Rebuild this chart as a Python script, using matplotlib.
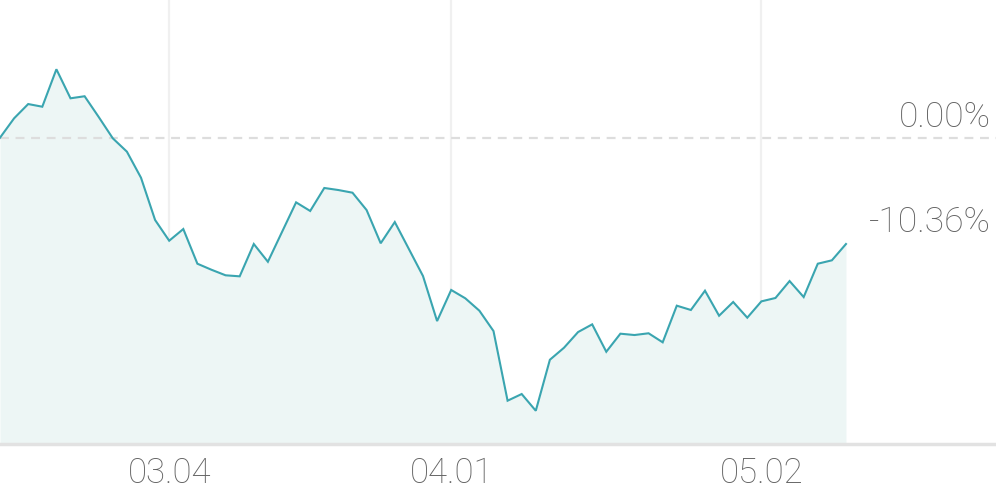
import numpy as np
import matplotlib
matplotlib.use('Agg')
import matplotlib.pyplot as plt

# daily return (%) vs start
returns = [0.00, 1.89, 3.28, 3.02, 6.67, 3.84, 4.04, 2.02, -0.06, -1.36,
           -3.90, -8.02, -10.04, -8.90, -12.28, -12.87, -13.41, -13.51, -10.36, -12.09,
           -9.19, -6.30, -7.14, -4.90, -5.10, -5.36, -7.05, -10.29, -8.22, -10.85,
           -13.48, -17.87, -14.84, -15.65, -16.86, -18.84, -25.63, -24.98, -26.61, -21.64,
           -20.47, -18.94, -18.19, -20.86, -19.10, -19.23, -19.06, -19.94, -16.37, -16.79,
           -14.91, -17.35, -16.01, -17.54, -15.95, -15.62, -13.97, -15.53, -12.28, -11.95,
           -10.36]
tick_idx = [12, 32, 54]
tick_labels = ['03.04', '04.01', '05.02']
last_label = '-10.36%'

plt.rcParams['font.family'] = ['Roboto', 'DejaVu Sans']
txt_color = '#626262'

fig = plt.figure(figsize=(9.96, 4.9), dpi=100)
ax = fig.add_axes([0, 46 / 490, 1, 444 / 490])

x = np.arange(len(returns))
y_bottom = -29.85
ax.set_xlim(0, 70.64)
ax.set_ylim(y_bottom, 13.42)

for t in tick_idx:
    ax.axvline(t, color='#f0f0f0', lw=1.6, zorder=0)

ax.fill_between(x, returns, y_bottom, color='#edf6f5', lw=0, zorder=1)
ax.plot(x, returns, color='#3aa5b0', lw=1.5, zorder=3, solid_joinstyle='miter')
ax.axhline(0, color='#dddddd', lw=1.6, dashes=(4, 3), zorder=2)

for s in ['top', 'left', 'right']:
    ax.spines[s].set_visible(False)
ax.spines['bottom'].set_color('#e2e2e2')
ax.spines['bottom'].set_linewidth(2.5)

ax.set_yticks([])
ax.set_xticks(tick_idx)
ax.set_xticklabels(tick_labels, fontsize=25, color=txt_color, fontweight='light')
ax.tick_params(axis='x', length=0, pad=9)

ax.annotate('0.00%', xy=(0.995, 0.0), xycoords=('axes fraction', 'data'),
            xytext=(0, 7.5), textcoords='offset points', ha='right', va='baseline',
            fontsize=25.5, color=txt_color, fontweight='light')
ax.annotate(last_label, xy=(0.995, returns[-1]), xycoords=('axes fraction', 'data'),
            xytext=(0, 8.6), textcoords='offset points', ha='right', va='baseline',
            fontsize=25.5, color=txt_color, fontweight='light')

fig.savefig('out.png', dpi=100)
